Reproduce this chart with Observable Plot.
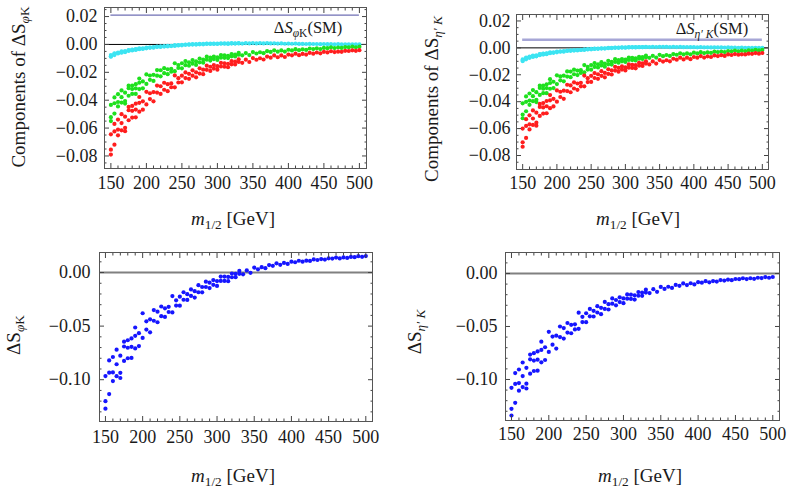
<!DOCTYPE html>
<html><head><meta charset="utf-8">
<script src="https://cdn.jsdelivr.net/npm/d3@7"></script>
<script src="https://cdn.jsdelivr.net/npm/@observablehq/plot@0.6"></script>
<style>
html,body{margin:0;padding:0;background:#fff;}
#root{position:relative;width:790px;height:489px;overflow:hidden;font-family:"Liberation Serif","Times New Roman",serif;color:#1a1a1a;}
.panel{position:absolute;}
.lbl{position:absolute;white-space:nowrap;font-size:19px;line-height:1;transform:translate(-50%,-50%);}
.rot{transform:translate(-50%,-50%) rotate(-90deg);}
.leg{font-size:16.5px;}
sub{font-size:0.7em;vertical-align:-0.35em;line-height:0;}
</style></head><body><div id="root"></div>
<script>
// m_1/2 [GeV] of each scan point (shared by all panels)
const mHalf = [150,150,150,155,155,155,160,160,160,165,165,165,170,170,170,175,175,175,180,180,180,185,185,185,190,190,190,
195,195,200,200,205,205,210,210,215,215,220,220,225,225,230,230,235,235,240,240,245,245,250,250,255,255,260,260,265,265,
270,270,275,275,280,280,285,285,290,290,295,295,300,300,305,305,310,310,315,315,320,320,325,325,330,330,
335,340,345,350,355,360,365,370,375,380,385,390,395,400,405,410,415,420,425,430,435,440,445,450,455,460,465,470,475,480,485,490,495,500];

// Top-left: components of ΔS_φK
const phiCyan = [-0.0088,-0.0085,-0.0076,-0.0076,-0.0068,-0.0064,-0.0065,-0.0062,-0.0058,-0.0059,
-0.0055,-0.005,-0.0055,-0.0053,-0.0048,-0.0047,-0.0042,-0.004,-0.0043,-0.0039,
-0.0037,-0.004,-0.0036,-0.0034,-0.0034,-0.0031,-0.0028,-0.0032,-0.0028,-0.0028,
-0.0022,-0.0024,-0.0021,-0.0023,-0.0019,-0.0018,-0.0015,-0.0018,-0.0014,-0.0015,
-0.0012,-0.0014,-0.0011,-0.001,-0.0012,-0.0011,-0.0005,-0.0007,-0.0005,-0.0006,
-0.0003,-0.0003,-0.0001,-0.0002,0,-0.0001,0.0002,-0.0001,0.0002,0.0001,
0.0004,0.0001,0.0004,0.0004,0.0006,0.0003,0.0006,0.0004,0.0006,0.0003,
0.0006,0.0005,0.0008,0.0005,0.0008,0.0004,0.0007,0.0006,0.0009,0.0006,
0.0008,0.0007,0.0009,0.0006,0.0009,0.0007,0.001,0.0007,0.0009,0.0007,
0.0009,0.0007,0.0008,0.0006,0.0007,0.0005,0.0006,0.0005,0.0006,0.0004,
0.0004,0.0003,0.0004,0.0003,0.0003,0.0002,0.0003,0.0002,0.0002,0.0001,
0.0002,0.0001,0.0001,0.0001,0.0001,0,0];
const phiGreen = [-0.055,-0.0522,-0.0434,-0.0496,-0.0422,-0.038,-0.0445,-0.0413,-0.0357,-0.0417,
-0.0378,-0.033,-0.0424,-0.0406,-0.0346,-0.0368,-0.0314,-0.0296,-0.0355,-0.032,
-0.0295,-0.0355,-0.0315,-0.0285,-0.032,-0.0275,-0.0245,-0.0315,-0.0265,-0.0283,
-0.0215,-0.0254,-0.0223,-0.0262,-0.0218,-0.0224,-0.0184,-0.0229,-0.0185,-0.0206,
-0.017,-0.0213,-0.0178,-0.0175,-0.0196,-0.0192,-0.0135,-0.0169,-0.0148,-0.0171,
-0.0135,-0.0149,-0.0119,-0.0153,-0.0128,-0.0138,-0.0112,-0.0147,-0.0122,-0.0128,
-0.0101,-0.0131,-0.0108,-0.011,-0.0088,-0.0116,-0.0095,-0.0105,-0.0087,-0.0111,
-0.0093,-0.0095,-0.0076,-0.0096,-0.0078,-0.0098,-0.0081,-0.0085,-0.0069,-0.0086,
-0.0073,-0.0074,-0.0061,-0.0078,-0.0062,-0.0076,-0.0055,-0.0065,-0.0056,-0.0063,
-0.0048,-0.0054,-0.0042,-0.0052,-0.0043,-0.0051,-0.0038,-0.0043,-0.0034,-0.0041,
-0.0035,-0.0039,-0.0029,-0.0033,-0.0028,-0.0033,-0.0025,-0.0027,-0.0021,-0.0026,
-0.0022,-0.0025,-0.0019,-0.0021,-0.0016,-0.002,-0.0016];
const phiRed = [-0.079,-0.0755,-0.0645,-0.0719,-0.0624,-0.057,-0.0652,-0.0611,-0.0539,-0.0616,
-0.0564,-0.050,-0.0622,-0.0598,-0.0518,-0.0544,-0.0472,-0.0448,-0.0525,-0.0476,
-0.0441,-0.0523,-0.0467,-0.0425,-0.0482,-0.0419,-0.0377,-0.0468,-0.0408,-0.043,
-0.034,-0.0392,-0.035,-0.0408,-0.0342,-0.0345,-0.0295,-0.0355,-0.030,-0.0325,
-0.0275,-0.0335,-0.0285,-0.028,-0.0307,-0.0308,-0.0222,-0.0273,-0.0242,-0.0272,
-0.0224,-0.0241,-0.0201,-0.0247,-0.0211,-0.0224,-0.0186,-0.0236,-0.020,-0.0209,
-0.0171,-0.0213,-0.0181,-0.0182,-0.0152,-0.019,-0.016,-0.0173,-0.0148,-0.0181,
-0.0156,-0.0158,-0.0132,-0.016,-0.0135,-0.0163,-0.0139,-0.0143,-0.012,-0.0144,
-0.0124,-0.0126,-0.0107,-0.0132,-0.0109,-0.0126,-0.0098,-0.011,-0.0099,-0.0108,
-0.0087,-0.0095,-0.0079,-0.0092,-0.0079,-0.009,-0.0073,-0.0078,-0.0066,-0.0077,
-0.0068,-0.0073,-0.006,-0.0066,-0.0058,-0.0064,-0.0053,-0.0057,-0.0049,-0.0055,
-0.0052,-0.0053,-0.0046,-0.0047,-0.0042,-0.0046,-0.0041];

// Top-right: components of ΔS_η'K
const etaCyan = [-0.0098,-0.0095,-0.0086,-0.0085,-0.0077,-0.0072,-0.0074,-0.007,-0.0065,-0.0067,
-0.0062,-0.0057,-0.0063,-0.0061,-0.0055,-0.0054,-0.0049,-0.0047,-0.005,-0.0045,
-0.0043,-0.0047,-0.0042,-0.004,-0.004,-0.0037,-0.0034,-0.0037,-0.0033,-0.0033,
-0.0027,-0.0029,-0.0026,-0.0028,-0.0024,-0.0023,-0.002,-0.0022,-0.0019,-0.002,
-0.0017,-0.0019,-0.0016,-0.0015,-0.0016,-0.0016,-0.0011,-0.0012,-0.001,-0.0011,
-0.0008,-0.0008,-0.0006,-0.0007,-0.0005,-0.0005,-0.0003,-0.0005,-0.0003,-0.0002,
0,-0.0002,0,0,0.0002,0,0.0002,0.0002,0.0003,0.0001,
0.0003,0.0003,0.0005,0.0004,0.0005,0.0003,0.0005,0.0005,0.0006,0.0005,
0.0006,0.0006,0.0007,0.0006,0.0007,0.0006,0.0008,0.0007,0.0007,0.0006,
0.0007,0.0006,0.0007,0.0005,0.0006,0.0005,0.0005,0.0004,0.0005,0.0004,
0.0004,0.0003,0.0004,0.0003,0.0003,0.0002,0.0003,0.0002,0.0002,0.0001,
0.0002,0.0001,0.0001,0.0001,0.0001,0,0];
const etaGreen = [-0.0523,-0.0496,-0.0412,-0.0471,-0.0401,-0.0361,-0.0423,-0.0392,-0.0339,-0.0396,
-0.0359,-0.0314,-0.0403,-0.0386,-0.0329,-0.035,-0.0298,-0.0281,-0.0337,-0.0304,
-0.028,-0.0337,-0.0299,-0.0271,-0.0304,-0.0261,-0.0233,-0.0299,-0.0252,-0.0269,
-0.0204,-0.0241,-0.0212,-0.0249,-0.0207,-0.0213,-0.0175,-0.0218,-0.0176,-0.0196,
-0.0162,-0.0202,-0.0169,-0.0166,-0.0186,-0.0182,-0.0128,-0.0161,-0.0141,-0.0162,
-0.0128,-0.0142,-0.0113,-0.0145,-0.0122,-0.0131,-0.0106,-0.014,-0.0116,-0.0122,
-0.0096,-0.0124,-0.0103,-0.0105,-0.0084,-0.011,-0.009,-0.01,-0.0083,-0.0105,
-0.0088,-0.009,-0.0072,-0.0091,-0.0074,-0.0093,-0.0077,-0.0081,-0.0066,-0.0082,
-0.0069,-0.007,-0.0058,-0.0074,-0.0059,-0.0072,-0.0052,-0.0062,-0.0053,-0.006,
-0.0046,-0.0051,-0.004,-0.0049,-0.0041,-0.0048,-0.0036,-0.0041,-0.0032,-0.0039,
-0.0033,-0.0037,-0.0028,-0.0031,-0.0027,-0.0031,-0.0024,-0.0026,-0.002,-0.0025,
-0.0021,-0.0024,-0.0018,-0.002,-0.0015,-0.0019,-0.0015];
const etaRed = [-0.0735,-0.0702,-0.06,-0.0669,-0.058,-0.053,-0.0606,-0.0568,-0.0501,-0.0573,
-0.0525,-0.0465,-0.0578,-0.0556,-0.0482,-0.0506,-0.0439,-0.0417,-0.0488,-0.0443,
-0.041,-0.0486,-0.0434,-0.0395,-0.0448,-0.039,-0.0351,-0.0435,-0.0379,-0.04,
-0.0316,-0.0365,-0.0326,-0.0379,-0.0318,-0.0321,-0.0274,-0.033,-0.0279,-0.0302,
-0.0256,-0.0312,-0.0265,-0.026,-0.0286,-0.0286,-0.0206,-0.0254,-0.0225,-0.0253,
-0.0208,-0.0224,-0.0187,-0.023,-0.0196,-0.0208,-0.0173,-0.0219,-0.0186,-0.0194,
-0.0159,-0.0198,-0.0168,-0.0169,-0.0141,-0.0177,-0.0149,-0.0161,-0.0138,-0.0168,
-0.0145,-0.0147,-0.0123,-0.0149,-0.0126,-0.0152,-0.0129,-0.0133,-0.0112,-0.0134,
-0.0115,-0.0117,-0.01,-0.0123,-0.0101,-0.0117,-0.0091,-0.0102,-0.0092,-0.01,
-0.0081,-0.0088,-0.0073,-0.0086,-0.0073,-0.0084,-0.0068,-0.0073,-0.0061,-0.0072,
-0.0063,-0.0068,-0.0056,-0.0061,-0.0054,-0.006,-0.0049,-0.0053,-0.0046,-0.0051,
-0.0048,-0.0049,-0.0043,-0.0044,-0.0039,-0.0043,-0.0038];

// Bottom-left: ΔS_φK ; bottom-right: ΔS_η'K
const phiTotal = [-0.127,-0.120,-0.0966,-0.1134,-0.0934,-0.082,-0.1013,-0.0932,-0.0788,-0.0967,
-0.0856,-0.072,-0.0984,-0.0936,-0.0776,-0.0825,-0.069,-0.0645,-0.080,-0.0702,
-0.0632,-0.0797,-0.0693,-0.0615,-0.0708,-0.0591,-0.0513,-0.0686,-0.0566,-0.061,
-0.038,-0.0532,-0.0455,-0.0558,-0.0437,-0.045,-0.035,-0.0464,-0.0365,-0.0407,
-0.0317,-0.0414,-0.0334,-0.032,-0.0368,-0.0372,-0.022,-0.0308,-0.0259,-0.0309,
-0.0225,-0.0254,-0.0184,-0.0256,-0.0202,-0.0218,-0.0158,-0.0234,-0.0174,-0.0184,
-0.0118,-0.0185,-0.0135,-0.0135,-0.0085,-0.0145,-0.0095,-0.0115,-0.007,-0.0125,
-0.008,-0.0078,-0.0038,-0.0078,-0.0038,-0.0081,-0.0041,-0.0044,-0.0009,-0.0043,
-0.0012,-0.0012,0.0015,-0.0017,0.002,-0.0003,0.0046,0.003,0.005,0.0041,
0.007,0.0063,0.0086,0.0072,0.009,0.008,0.0101,0.0096,0.011,0.0101,
0.0111,0.0108,0.0122,0.0117,0.0126,0.0121,0.0133,0.013,0.014,0.0132,
0.0141,0.0136,0.0146,0.0143,0.0153,0.0147,0.0154];
const etaTotal = [-0.134,-0.1277,-0.1079,-0.122,-0.1042,-0.094,-0.1106,-0.1034,-0.0906,-0.1072,
-0.0968,-0.084,-0.1085,-0.104,-0.089,-0.0945,-0.081,-0.0765,-0.092,-0.0822,
-0.0752,-0.0917,-0.0813,-0.0735,-0.0838,-0.0721,-0.0643,-0.0816,-0.0696,-0.074,
-0.055,-0.0672,-0.0595,-0.0708,-0.0587,-0.060,-0.050,-0.0614,-0.0515,-0.0557,
-0.0467,-0.0564,-0.0484,-0.048,-0.0528,-0.0522,-0.037,-0.0458,-0.0409,-0.0459,
-0.0375,-0.0404,-0.0334,-0.0406,-0.0352,-0.0368,-0.0308,-0.0384,-0.0324,-0.0334,
-0.0268,-0.034,-0.029,-0.0285,-0.0235,-0.030,-0.025,-0.027,-0.0225,-0.028,
-0.0235,-0.0238,-0.0198,-0.024,-0.020,-0.0246,-0.0206,-0.021,-0.0175,-0.0211,
-0.018,-0.018,-0.0153,-0.0185,-0.0148,-0.0173,-0.0127,-0.0146,-0.0125,-0.0136,
-0.0108,-0.0116,-0.0094,-0.0109,-0.0092,-0.0103,-0.0082,-0.0087,-0.0073,-0.0083,
-0.0072,-0.0076,-0.0062,-0.0067,-0.0058,-0.0063,-0.0052,-0.0054,-0.0045,-0.0053,
-0.0045,-0.005,-0.004,-0.0043,-0.0034,-0.004,-0.0033];

// Standard-model reference lines and their m_1/2 extent
const smPhiK = 0.021;
const smEtaK = 0.006;
const smRange = [150, 500];

// Tick values
const xTicks = [150, 200, 250, 300, 350, 400, 450, 500];
const xMinorTicks = [160,170,180,190,210,220,230,240,260,270,280,290,310,320,330,340,360,370,380,390,410,420,430,440,460,470,480,490];
const yTicksTop = [-0.08, -0.06, -0.04, -0.02, 0, 0.02];
const yMinorTop = [-0.085,-0.075,-0.07,-0.065,-0.055,-0.05,-0.045,-0.035,-0.03,-0.025,-0.015,-0.01,-0.005,0.005,0.01,0.015,0.025];
const yTicksBottom = [-0.10, -0.05, 0];
const yMinorBottom = [-0.13,-0.12,-0.11,-0.09,-0.08,-0.07,-0.06,-0.04,-0.03,-0.02,-0.01,0.01];

const COL = {cyan: "#3ce4f2", green: "#1ee01e", red: "#ff1e1e", blue: "#1616ff"};
const fmt2 = d3.format(".2f");

function panel(cfg) {
  const inX = v => v >= cfg.xDomain[0] && v <= cfg.xDomain[1];
  const inY = v => v >= cfg.yDomain[0] && v <= cfg.yDomain[1];
  const tickStroke = "#444";
  const common = {stroke: tickStroke, fill: "#1a1a1a", label: null};
  const marks = [
    Plot.ruleY([0], {stroke: cfg.zeroColor, strokeWidth: cfg.zeroWidth}),
  ];
  if (cfg.sm != null) {
    marks.push(Plot.ruleY([cfg.sm], {x1: smRange[0], x2: smRange[1], stroke: cfg.smColor, strokeWidth: cfg.smWidth}));
  }
  for (const s of cfg.series) {
    const rows = mHalf.map((m, i) => ({m, v: s.values[i]}));
    marks.push(Plot.dot(rows, {x: "m", y: "v", r: 2.1, fill: s.color, stroke: "none"}));
  }
  marks.push(
    Plot.axisX({...common, anchor: "bottom", ticks: xTicks, tickSize: -5, tickPadding: cfg.xPad, tickFormat: d => String(d)}),
    Plot.axisX({...common, anchor: "bottom", ticks: xMinorTicks.filter(inX), tickSize: -2.5, tickFormat: () => ""}),
    Plot.axisX({...common, anchor: "top", ticks: xTicks, tickSize: -5, tickFormat: () => ""}),
    Plot.axisX({...common, anchor: "top", ticks: xMinorTicks.filter(inX), tickSize: -2.5, tickFormat: () => ""}),
    Plot.axisY({...common, anchor: "left", ticks: cfg.yTicks, tickSize: -5, tickPadding: cfg.yPad, tickFormat: fmt2}),
    Plot.axisY({...common, anchor: "left", ticks: cfg.yMinor.filter(inY), tickSize: -2.5, tickFormat: () => ""}),
    Plot.axisY({...common, anchor: "right", ticks: cfg.yTicks, tickSize: -5, tickFormat: () => ""}),
    Plot.axisY({...common, anchor: "right", ticks: cfg.yMinor.filter(inY), tickSize: -2.5, tickFormat: () => ""}),
    Plot.frame({stroke: "#555", strokeWidth: 1})
  );
  const svg = Plot.plot({
    width: cfg.width, height: cfg.height,
    marginLeft: cfg.ml, marginRight: cfg.mr, marginTop: cfg.mt, marginBottom: cfg.mb,
    x: {domain: cfg.xDomain, axis: null},
    y: {domain: cfg.yDomain, axis: null},
    style: {fontFamily: '"Liberation Serif", "Times New Roman", serif', fontSize: "18px", background: "transparent", overflow: "visible", color: "#1a1a1a"},
    marks
  });
  const div = document.createElement("div");
  div.className = "panel";
  div.style.left = cfg.left + "px";
  div.style.top = cfg.top + "px";
  div.appendChild(svg);
  document.getElementById("root").appendChild(div);
}

function label(html, cx, cy, cls) {
  const d = document.createElement("div");
  d.className = "lbl" + (cls ? " " + cls : "");
  d.style.left = cx + "px";
  d.style.top = cy + "px";
  d.innerHTML = html;
  document.getElementById("root").appendChild(d);
}

panel({left: 0, top: 0, width: 380, height: 240, ml: 104, mr: 14, mt: 7, mb: 72,
  xDomain: [141, 510], yDomain: [-0.089, 0.0265], yTicks: yTicksTop, yMinor: yMinorTop, xPad: 13, yPad: 12,
  zeroColor: "#000", zeroWidth: 1, sm: smPhiK, smColor: "#6f6fb4", smWidth: 1.4,
  series: [{values: phiCyan, color: COL.cyan}, {values: phiGreen, color: COL.green}, {values: phiRed, color: COL.red}]});

panel({left: 400, top: 0, width: 385, height: 240, ml: 116, mr: 17, mt: 14, mb: 71,
  xDomain: [141, 509], yDomain: [-0.0904, 0.0248], yTicks: yTicksTop, yMinor: yMinorTop, xPad: 12, yPad: 11,
  zeroColor: "#000", zeroWidth: 1, sm: smEtaK, smColor: "#a6a6d6", smWidth: 2.6,
  series: [{values: etaCyan, color: COL.cyan}, {values: etaGreen, color: COL.green}, {values: etaRed, color: COL.red}]});

panel({left: 0, top: 240, width: 385, height: 249, ml: 99, mr: 13, mt: 12, mb: 68,
  xDomain: [142, 509], yDomain: [-0.139, 0.0187], yTicks: yTicksBottom, yMinor: yMinorBottom, xPad: 14, yPad: 14,
  zeroColor: "#808080", zeroWidth: 2, sm: null,
  series: [{values: phiTotal, color: COL.blue}]});

panel({left: 400, top: 240, width: 390, height: 249, ml: 105, mr: 11, mt: 12, mb: 69,
  xDomain: [142, 509], yDomain: [-0.1387, 0.0198], yTicks: yTicksBottom, yMinor: yMinorBottom, xPad: 12, yPad: 13,
  zeroColor: "#808080", zeroWidth: 2, sm: null,
  series: [{values: etaTotal, color: COL.blue}]});

const mLabel = '<i>m</i><sub>1/2</sub> [GeV]';
label(mLabel, 233, 218);
label(mLabel, 638, 218);
label(mLabel, 233, 475);
label(mLabel, 640, 475);
label('Components of&nbsp;ΔS<sub><i>φ</i>K</sub>', 18, 87, "rot");
label('Components of&nbsp;ΔS<sub><i>η′ K</i></sub>', 431, 99, "rot");
label('ΔS<sub><i>φ</i>K</sub>', 13, 335, "rot");
label('ΔS<sub><i>η′ K</i></sub>', 414, 332, "rot");
label('Δ<i>S</i><sub><i>φ</i>K</sub>(SM)', 308, 28, "leg");
label('Δ<i>S</i><sub><i>η′ K</i></sub>(SM)', 712, 29, "leg");
</script>
</body></html>
